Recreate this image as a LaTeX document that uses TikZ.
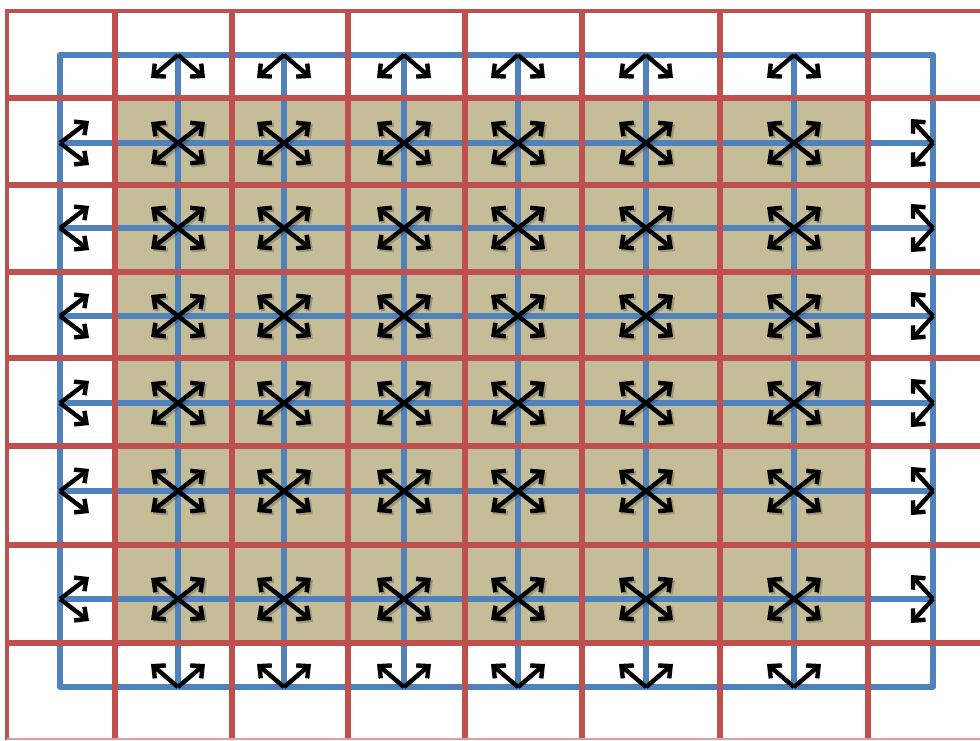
\documentclass[tikz,border=0pt]{standalone}
\usetikzlibrary{arrows.meta}
\definecolor{pred}{HTML}{C0504D}
\definecolor{pblue}{HTML}{4F81BD}
\definecolor{ptan}{HTML}{C4BD97}
\begin{document}
\begin{tikzpicture}[x=1pt,y=-1pt,
  redline/.style={draw=pred,line width=6.5pt},
  blueline/.style={draw=pblue,line width=6pt},
  flow/.style={draw=black,line width=4.4pt,arrows={-Straight Barb[length=9pt,width=17pt]}},
  dflow/.style={draw=black,line width=4.4pt,arrows={Straight Barb[length=9pt,width=17pt]-Straight Barb[length=9pt,width=17pt]}},
  shade/.style={draw=black,opacity=0.2,transform canvas={shift={(2pt,-2pt)}}}]
\useasboundingbox (0,0) rectangle (980,740);
\fill[white] (0,0) rectangle (980,740);
\fill[ptan] (115,98) rectangle (868,643);
% blue grid
\draw[blueline,line join=round] (60,55) rectangle (933,687);
\foreach \x in {178,284,404,518,646,794} \draw[blueline] (\x,55) -- (\x,687);
\foreach \y in {143,228,316,403,491,599} \draw[blueline] (60,\y) -- (933,\y);
% red grid
\foreach \x in {115,232,348,465,582,720,868} \draw[redline] (\x,11) -- (\x,740);
\foreach \y in {98,185,272,358,446,545,643} \draw[redline] (7,\y) -- (980,\y);
\draw[redline,line width=4pt] (980,11) -- (7,11) -- (7,740);
\draw[draw=pred!55,line width=2pt] (7,738.5) -- (980,738.5);
% interior nodes: crossed double arrows
\foreach \x [count=\i] in {178,284,404,518,646,794} {
  \foreach \y [count=\j] in {143,228,316,403,491,599} {
    \coordinate (c-\i-\j) at (\x,\y);
    \draw[dflow,shade] ([shift={(-27,-21)}]c-\i-\j) -- ([shift={(27,21)}]c-\i-\j);
    \draw[dflow,shade] ([shift={(-27,21)}]c-\i-\j) -- ([shift={(27,-21)}]c-\i-\j);
    \draw[dflow] ([shift={(-27,-21)}]c-\i-\j) -- ([shift={(27,21)}]c-\i-\j);
    \draw[dflow] ([shift={(-27,21)}]c-\i-\j) -- ([shift={(27,-21)}]c-\i-\j);
  }
  % top and bottom boundary nodes
  \coordinate (t-\i) at (\x,55);
  \coordinate (b-\i) at (\x,687);
  \draw[flow] (t-\i) -- ([shift={(-27,23)}]t-\i);
  \draw[flow] (t-\i) -- ([shift={(27,23)}]t-\i);
  \draw[flow] (b-\i) -- ([shift={(-27,-23)}]b-\i);
  \draw[flow] (b-\i) -- ([shift={(27,-23)}]b-\i);
}
% left and right boundary nodes
\foreach \y [count=\j] in {143,228,316,403,491,599} {
  \coordinate (l-\j) at (60,\y);
  \coordinate (r-\j) at (933,\y);
  \draw[flow] (l-\j) -- ([shift={(29,-22)}]l-\j);
  \draw[flow] (l-\j) -- ([shift={(29,22)}]l-\j);
  \draw[flow] (r-\j) -- ([shift={(-22,-24)}]r-\j);
  \draw[flow] (r-\j) -- ([shift={(-22,24)}]r-\j);
}
\end{tikzpicture}
\end{document}
